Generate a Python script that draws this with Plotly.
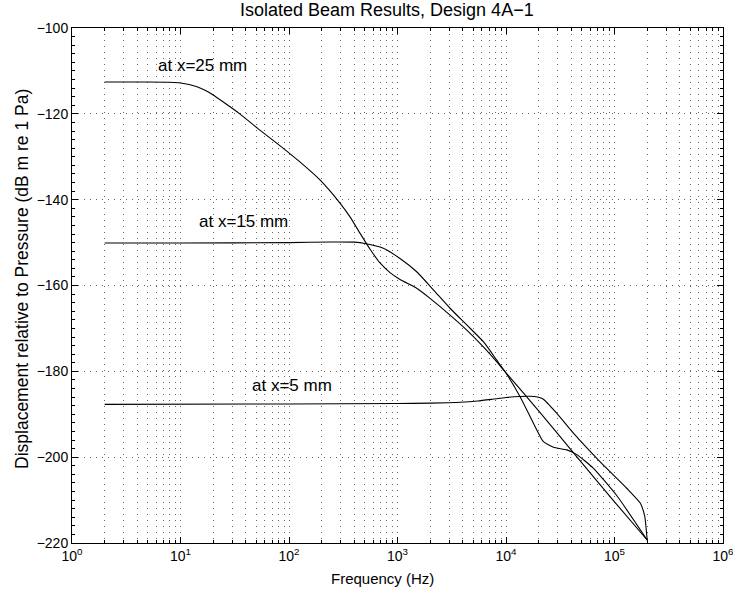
import math
import plotly.graph_objects as go

# frequency (Hz) and displacement (dB m re 1 Pa)
f_25 = [2, 5, 8, 10, 12, 14, 17, 20, 25, 35.2, 53.9, 82.4, 126, 193, 295, 365, 451, 557,
        690, 853, 1055, 1503, 1995, 3050, 4350, 6187, 8225, 9810, 20000, 44200, 100000, 200000]
d_25 = [-112.6, -112.6, -112.65, -112.8, -113.15, -113.65, -114.55, -115.6, -117.3, -120.0,
        -123.8, -127.4, -131.2, -135.4, -140.8, -144.0, -147.8, -151.5, -154.75, -157.0,
        -158.6, -160.65, -163.0, -166.9, -170.4, -174.3, -177.8, -180.1, -189.2, -199.7,
        -210.4, -219.3]

f_15 = [2, 10, 100, 250, 400, 501, 740, 1054, 1503, 2140, 3050, 4350, 6187, 8225,
        9810, 13490, 17900, 22130, 27360, 36390, 44990, 64000, 105200, 200000]
d_15 = [-150.1, -150.1, -150.0, -149.85, -149.9, -150.2, -151.3, -153.7, -156.8,
        -161.0, -165.3, -169.2, -173.1, -177.4, -180.1, -185.9, -192.1, -196.4,
        -197.7, -198.3, -199.4, -202.6, -209.0, -219.3]

f_5 = [2, 100, 1000, 2000, 3780, 5500, 7500, 10000, 13490, 16500, 19500, 22130, 29420,
       41850, 73800, 130200, 172600, 190000, 200000]
d_5 = [-187.7, -187.6, -187.5, -187.4, -187.2, -186.9, -186.5, -186.1, -185.85, -185.8,
       -186.0, -186.5, -189.8, -194.4, -201.1, -207.3, -210.7, -213.8, -219.3]

labels = ["at x=25 mm", "at x=15 mm", "at x=5 mm"]
label_f = [15.9, 37.8, 107.5]
label_d = [-108.85, -144.97, -183.41]

decades = [1, 10, 100, 1000, 10000, 100000, 1000000]
decade_text = ["10<sup>%d</sup>" % i for i in range(7)]
minor_vals = [m * d for d in decades[:-1] for m in range(2, 10)]

font = "Liberation Sans, Arial, Helvetica, sans-serif"
dots = "1px,5px"
dotcol = "#666"

fig = go.Figure()
for fx, dy in [(f_25, d_25), (f_15, d_15), (f_5, d_5)]:
    fig.add_trace(go.Scatter(x=fx, y=dy, mode="lines",
                             line=dict(color="black", width=1.1, shape="spline", smoothing=0.5),
                             showlegend=False, hoverinfo="skip"))

# log axis: annotation x is given as log10 of the frequency
for t, fx, dy in zip(labels, label_f, label_d):
    fig.add_annotation(x=math.log10(fx), y=dy, xref="x", yref="y", text=t, showarrow=False,
                       font=dict(size=17, color="black", family=font), xanchor="center", yanchor="middle")

fig.update_xaxes(type="log", range=[0, 6], tickmode="array", tickvals=decades, ticktext=decade_text,
                 automargin=False, ticklabeloverflow="allow",
                 showline=True, linecolor="black", linewidth=1, mirror="ticks",
                 ticks="inside", ticklen=6, tickcolor="black",
                 showgrid=True, gridcolor=dotcol, griddash=dots, gridwidth=1, zeroline=False,
                 tickfont=dict(size=14, color="black", family=font),
                 minor=dict(tickmode="array", tickvals=minor_vals, ticks="inside", ticklen=3,
                            tickcolor="black", showgrid=True, gridcolor=dotcol, griddash=dots, gridwidth=1))
fig.update_yaxes(range=[-220, -100], dtick=20, tick0=-220, automargin=False,
                 showline=True, linecolor="black", linewidth=1, mirror="ticks",
                 ticks="inside", ticklen=6, tickcolor="black",
                 showgrid=True, gridcolor=dotcol, griddash=dots, gridwidth=1, zeroline=False,
                 tickfont=dict(size=14, color="black", family=font),
                 minor=dict(dtick=2, ticks="inside", ticklen=3, tickcolor="black", showgrid=False))

# title and axis titles placed as annotations to match the reference positions
fig.add_annotation(x=(386.5 - 72) / 651, y=1 + 18 / 515, xref="paper", yref="paper",
                   text="Isolated Beam Results, Design 4A\u22121", showarrow=False,
                   font=dict(size=18, color="black", family=font), xanchor="center", yanchor="middle")
fig.add_annotation(x=(382.5 - 72) / 651, y=-35 / 515, xref="paper", yref="paper",
                   text="Frequency (Hz)", showarrow=False,
                   font=dict(size=15, color="black", family=font), xanchor="center", yanchor="middle")
fig.add_annotation(x=-(72 - 22) / 651, y=(543 - 279) / 515, xref="paper", yref="paper",
                   text="Displacement relative to Pressure (dB m re 1 Pa)", showarrow=False, textangle=-90,
                   font=dict(size=17.5, color="black", family=font), xanchor="center", yanchor="middle")

fig.update_layout(width=733, height=593, margin=dict(l=72, r=10, t=28, b=50),
                  paper_bgcolor="white", plot_bgcolor="white", font=dict(family=font, color="black"))

# drop the browser's default 8px body margin so the figure sits at the window corner
fig.write_html("out.html", config={"displayModeBar": False},
               post_script="document.body.style.margin='0';")
